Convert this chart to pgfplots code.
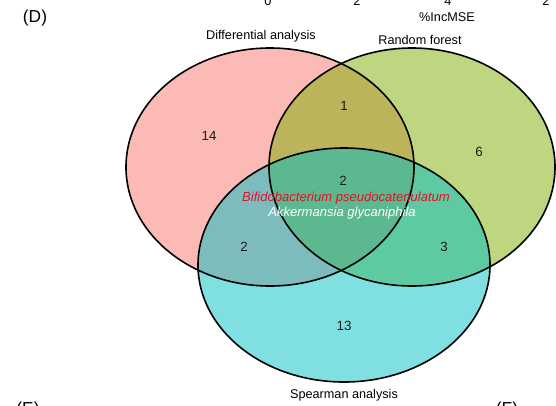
\documentclass[border=0pt]{standalone}
\usepackage{pgfplots}
\pgfplotsset{compat=1.18}
\usepackage{fontspec}
\setmainfont{Liberation Sans}
\definecolor{pinkc}{HTML}{F8766D}
\definecolor{greenc}{HTML}{7CAE00}
\definecolor{cyanc}{HTML}{00BFC4}
\definecolor{redtxt}{HTML}{E3102C}
\definecolor{numc}{HTML}{1C1C1C}
\begin{document}
\begin{tikzpicture}
\useasboundingbox (0,0) rectangle (417pt,303.75pt);
\clip (0,0) rectangle (417pt,303.75pt);
\begin{axis}[
  at={(0,0)}, anchor=south west,
  width=417pt, height=303.75pt, scale only axis,
  xmin=0, xmax=556, ymin=0, ymax=405, y dir=reverse,
  hide axis, clip=false,
]
% ellipse fills
\fill[pinkc, fill opacity=0.5] (axis cs:270,167) ellipse [x radius=144, y radius=119];
\fill[greenc, fill opacity=0.5] (axis cs:412,167) ellipse [x radius=143, y radius=119];
\fill[cyanc, fill opacity=0.5] (axis cs:344,265) ellipse [x radius=146, y radius=117];
% outlines
\draw[black, line width=1.2pt] (axis cs:270,167) ellipse [x radius=144, y radius=119];
\draw[black, line width=1.2pt] (axis cs:412,167) ellipse [x radius=143, y radius=119];
\draw[black, line width=1.2pt] (axis cs:344,265) ellipse [x radius=146, y radius=117];
% counts
\addplot[draw=none, mark=none, nodes near coords, point meta=explicit symbolic,
  nodes near coords style={anchor=center, font=\fontsize{10}{12}\selectfont, text=numc}]
  coordinates {(209,136)[14] (344,106)[1] (479,152)[6] (343,181)[2] (244,247)[2] (444,247)[3] (344,326)[13]};
% species names
\addplot[draw=none, mark=none, nodes near coords, point meta=explicit symbolic,
  nodes near coords style={anchor=center, font=\fontsize{9.8}{11}\selectfont\itshape, text=redtxt}]
  coordinates {(346,198)[Bifidobacterium pseudocatenulatum]};
\addplot[draw=none, mark=none, nodes near coords, point meta=explicit symbolic,
  nodes near coords style={anchor=center, font=\fontsize{9.8}{11}\selectfont\itshape, text=white}]
  coordinates {(342,213)[Akkermansia glycaniphila]};
% set labels
\addplot[draw=none, mark=none, nodes near coords, point meta=explicit symbolic,
  nodes near coords style={anchor=center, font=\fontsize{9.5}{11}\selectfont, text=black}]
  coordinates {(261,36)[Differential analysis] (420,40)[Random forest] (344,395)[Spearman analysis] (447,17)[\%IncMSE]
  (268,1)[0] (357,1)[2] (448,1)[4] (546,1)[2]};
% panel letters
\addplot[draw=none, mark=none, nodes near coords, point meta=explicit symbolic,
  nodes near coords style={anchor=center, font=\fontsize{13}{15}\selectfont, text=black}]
  coordinates {(35,18)[(D)] (28,410)[(E)] (507,410)[(F)]};
\end{axis}
\end{tikzpicture}
\end{document}
